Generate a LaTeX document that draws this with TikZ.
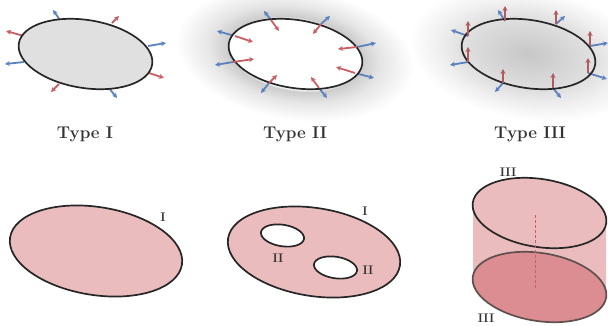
\documentclass[tikz,border=0pt]{standalone}
\usepackage{amsmath}
\usepackage{xcolor}
\usetikzlibrary{shapes.geometric, arrows.meta}

\definecolor{arrowblue}{HTML}{5B82BE}
\definecolor{arrowred}{HTML}{C95F64}
\definecolor{arrowbrown}{HTML}{B05C5E}
\definecolor{pinkfill}{HTML}{EBBCBE}
\definecolor{darkpink}{HTML}{DB8D91}
\definecolor{inkgray}{HTML}{333333}
\definecolor{cylline}{HTML}{5E504E}

\pgfdeclareradialshading{glowring}{\pgfpointorigin}{color(0bp)=(white); color(13bp)=(white); color(14bp)=(black!20); color(18bp)=(black!10); color(25bp)=(white); color(50bp)=(white)}
\pgfdeclareradialshading{glowfull}{\pgfpointorigin}{color(0bp)=(black!22); color(14bp)=(black!12); color(19bp)=(black!6); color(25bp)=(white); color(50bp)=(white)}

\tikzset{
  blob/.style={draw=black!85, ellipse, line width=1.7pt, rotate=-9, inner sep=0pt, minimum width=135pt, minimum height=68pt},
  bigblob/.style={blob, minimum width=174pt, minimum height=88pt},
  hole/.style={blob, fill=white, minimum width=43.5pt, minimum height=21.5pt},
  bluearrow/.style={-{Stealth[length=5pt,width=5pt]}, line width=1.8pt, arrowblue},
  redarrow/.style={-{Stealth[length=5pt,width=5pt]}, line width=1.8pt, arrowred},
  brownarrow/.style={-{Stealth[length=5pt,width=5pt]}, line width=1.8pt, arrowbrown},
  typelabel/.style={inkgray, font=\fontsize{17}{19}\selectfont\bfseries},
  regionlabel/.style={inkgray, font=\fontsize{12.5}{14}\selectfont\bfseries}
}

\begin{document}
\begin{tikzpicture}[x=1pt,y=-1pt]
  \clip (0,0) rectangle (608,325);

  % glows
  \shade[shading=glowring, transform canvas={shift={(295,54)},rotate=-9}] (0,0) ellipse (120 and 66);
  \shade[shading=glowfull, transform canvas={shift={(528,54)},rotate=-9}] (0,0) ellipse (120 and 66);

  % top row
  \foreach \sx/\sy/\ex/\ey in {60/20/53/10, 148/46/166/43, 109/88/117/98, 24/62/5/64}
    \draw[bluearrow] (\sx,\sy) -- (\ex,\ey);
  \foreach \sx/\sy/\ex/\ey in {112/23/119/16, 146/72/164/78, 59/84/51/92, 24/36/6/31}
    \draw[redarrow] (\sx,\sy) -- (\ex,\ey);
  \node[blob, fill=black!12] (typeone) at (85.5,54) {};

  \foreach \sx/\sy/\bx/\by in {271/20/264/11, 321/24/330/16, 357/47/376/43, 355/73/374/78,
    319/88/327/98, 269/83/261/93, 233/62/215/65, 235/36/217/31}
    \draw[bluearrow] (\sx,\sy) -- (\bx,\by);
  \node[blob, fill=white] (typetwo) at (295.5,54) {};
  \foreach \sx/\sy/\rx/\ry in {271/20/279/31, 321/24/313/34, 357/47/338/49, 355/73/336/67,
    319/88/311/77, 269/83/277/75, 233/62/254/59, 235/36/253/42}
    \draw[redarrow] (\sx,\sy) -- (\rx,\ry);

  \foreach \sx/\sy/\bx/\by in {505/21/498/10, 556/24/565/16, 590/46/608/43, 588/73/607/79,
    553/88/561/98, 503/83/495/92, 468/62/450/65, 468/36/451/30}
    \draw[bluearrow] (\sx,\sy) -- (\bx,\by);
  \node[blob] (typethree) at (528.5,54) {};
  \foreach \sx/\sy/\rx/\ry in {505/21/505/6, 556/24/556/10, 590/46/590/31, 588/73/588/58,
    553/88/553/73, 503/83/503/69, 468/62/468/47, 468/36/468/21}
    \draw[brownarrow] (\sx,\sy) -- (\rx,\ry);

  \node[typelabel] (labelone) at (85,134) {Type I};
  \node[typelabel] (labeltwo) at (295,134) {Type II};
  \node[typelabel] (labelthree) at (530,134) {Type III};

  % bottom row
  \node[bigblob, fill=pinkfill] (diskone) at (96,251) {};
  \node[bigblob, fill=pinkfill] (disktwo) at (314,252) {};
  \node[hole] (holeone) at (282.5,235.5) {};
  \node[hole] (holetwo) at (335.5,267.5) {};

  \node[regionlabel] (ione) at (163,217) {I};
  \node[regionlabel] (itwo) at (365,211) {I};
  \node[regionlabel] (iione) at (278,258) {II};
  \node[regionlabel] (iitwo) at (368,270) {II};

  % cylinder
  \fill[pinkfill] (473,206) -- (473,280) -- (606,294) -- (606,220) -- cycle;
  \node[blob, draw=cylline, fill=darkpink] (cylbottom) at (539.5,287) {};
  \node[blob, fill=pinkfill] (cyltop) at (539.5,213) {};
  \draw[arrowred, densely dashed, line width=0.6pt] (535,215) -- (535,290);

  \node[regionlabel] (iiitop) at (508,172) {III};
  \node[regionlabel] (iiibottom) at (486,318) {III};
\end{tikzpicture}
\end{document}
